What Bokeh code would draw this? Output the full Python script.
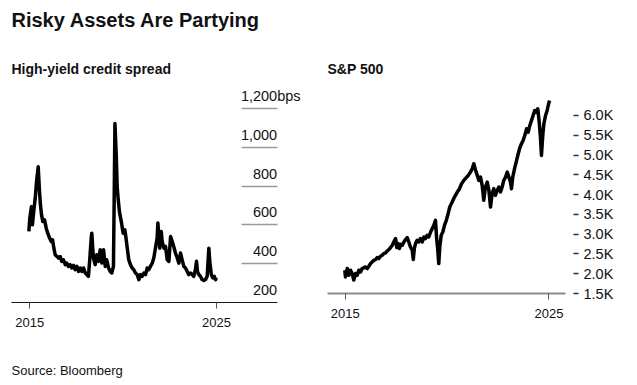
from bokeh.plotting import figure
from bokeh.layouts import row, column
from bokeh.models import Range1d, FixedTicker, Title, LabelSet, ColumnDataSource
from bokeh.embed import file_html
from bokeh.resources import INLINE
from bokeh.core.properties import value

# ---------------- data ----------------
TITLE = "Risky Assets Are Partying"
SUB_LEFT = "High-yield credit spread"
SUB_RIGHT = "S&P 500"
SOURCE = "Source: Bloomberg"

x_ticks = [2015, 2025]
x_tick_labels = ["2015", "2025"]

hy_ticks = [200, 400, 600, 800, 1000, 1200]
hy_tick_labels = ["200", "400", "600", "800", "1,000", "1,200"]
hy_unit = "bps"

spx_ticks = [1500, 2000, 2500, 3000, 3500, 4000, 4500, 5000, 5500, 6000]
spx_tick_labels = ["1.5K", "2.0K", "2.5K", "3.0K", "3.5K", "4.0K", "4.5K", "5.0K", "5.5K", "6.0K"]

hy_year = [2014.95, 2015.00, 2015.09, 2015.14, 2015.21, 2015.29, 2015.36, 2015.45, 2015.52, 2015.57,
           2015.63, 2015.70, 2015.79, 2015.88, 2015.96, 2016.06, 2016.15, 2016.22, 2016.29, 2016.36,
           2016.54, 2016.63, 2016.71, 2016.80, 2016.90, 2016.98, 2017.07, 2017.16, 2017.25, 2017.34,
           2017.43, 2017.52, 2017.61, 2017.70, 2017.79, 2017.88, 2017.97, 2018.05, 2018.14, 2018.21,
           2018.29, 2018.32, 2018.37, 2018.41, 2018.50, 2018.59, 2018.68, 2018.77, 2018.86, 2018.95,
           2019.04, 2019.12, 2019.22, 2019.31, 2019.39, 2019.48, 2019.52, 2019.56, 2019.63, 2019.68,
           2019.73, 2019.80, 2019.90, 2020.00, 2020.09, 2020.13, 2020.22, 2020.30, 2020.39, 2020.48,
           2020.57, 2020.66, 2020.75, 2020.84, 2020.93, 2021.02, 2021.11, 2021.20, 2021.29, 2021.37,
           2021.46, 2021.56, 2021.64, 2021.73, 2021.82, 2021.86, 2021.91, 2021.96, 2022.04, 2022.09,
           2022.18, 2022.27, 2022.36, 2022.45, 2022.54, 2022.63, 2022.71, 2022.80, 2022.90, 2022.98,
           2023.07, 2023.16, 2023.25, 2023.34, 2023.43, 2023.52, 2023.61, 2023.70, 2023.78, 2023.87,
           2023.93, 2023.98, 2024.05, 2024.14, 2024.23, 2024.32, 2024.41, 2024.50, 2024.59, 2024.64,
           2024.72, 2024.80, 2024.88, 2024.95, 2025.00]
hy_bps = [566, 634, 694, 600, 668, 737, 822, 899, 771, 703,
          651, 617, 626, 583, 557, 532, 514, 523, 480, 446,
          429, 437, 412, 420, 395, 403, 386, 395, 378, 391,
          369, 386, 360, 378, 360, 378, 352, 344, 335, 420,
          532, 557, 480, 429, 395, 446, 412, 472, 403, 472,
          386, 420, 378, 360, 352, 386, 737, 1122, 959, 796,
          737, 668, 617, 557, 574, 549, 480, 420, 395, 378,
          369, 352, 344, 318, 344, 335, 352, 344, 378, 369,
          386, 403, 429, 480, 532, 609, 549, 480, 566, 514,
          480, 489, 420, 412, 540, 514, 489, 455, 429, 403,
          455, 420, 386, 378, 360, 344, 352, 344, 335, 369,
          412, 360, 344, 335, 318, 313, 318, 335, 480, 412,
          344, 327, 335, 318, 327]

spx_year = [2014.98, 2015.01, 2015.10, 2015.18, 2015.26, 2015.34, 2015.42, 2015.51, 2015.59, 2015.67,
            2015.75, 2015.83, 2016.00, 2016.08, 2016.16, 2016.24, 2016.32, 2016.40, 2016.49, 2016.57,
            2016.65, 2016.73, 2016.82, 2016.89, 2016.98, 2017.06, 2017.14, 2017.22, 2017.31, 2017.38,
            2017.47, 2017.53, 2017.60, 2017.66, 2017.73, 2017.80, 2017.88, 2017.96, 2018.04, 2018.12,
            2018.20, 2018.29, 2018.34, 2018.39, 2018.45, 2018.53, 2018.61, 2018.69, 2018.78, 2018.86,
            2018.94, 2019.02, 2019.10, 2019.19, 2019.27, 2019.35, 2019.43, 2019.48, 2019.54, 2019.59,
            2019.64, 2019.71, 2019.79, 2019.87, 2019.96, 2020.03, 2020.13, 2020.25, 2020.36, 2020.50,
            2020.61, 2020.71, 2020.82, 2020.94, 2021.04, 2021.15, 2021.23, 2021.31, 2021.39, 2021.48,
            2021.56, 2021.64, 2021.72, 2021.80, 2021.88, 2021.97, 2022.05, 2022.13, 2022.21, 2022.29,
            2022.37, 2022.46, 2022.54, 2022.62, 2022.70, 2022.78, 2022.87, 2022.95, 2023.03, 2023.11,
            2023.16, 2023.22, 2023.31, 2023.41, 2023.49, 2023.57, 2023.65, 2023.73, 2023.81, 2023.90,
            2023.98, 2024.06, 2024.14, 2024.22, 2024.30, 2024.38, 2024.45, 2024.52, 2024.58, 2024.63,
            2024.70, 2024.75, 2024.83, 2024.91, 2024.98, 2025.03]
spx_level = [2088, 1919, 2131, 1962, 2088, 2005, 1840, 2005, 1962, 2088,
             2045, 2131, 2171, 2131, 2189, 2257, 2298, 2340, 2358, 2409,
             2383, 2441, 2467, 2510, 2525, 2575, 2611, 2661, 2719, 2802,
             2888, 2661, 2762, 2636, 2744, 2719, 2802, 2863, 2913, 2802,
             2676, 2593, 2358, 2636, 2762, 2845, 2802, 2888, 2802, 2928,
             2888, 2971, 2928, 3055, 3140, 3224, 3350, 2928, 2611, 2257,
             2676, 2971, 3055, 3224, 3350, 3476, 3686, 3812, 3938, 4064,
             4150, 4276, 4360, 4428, 4486, 4569, 4655, 4781, 4630, 4486,
             4360, 4443, 4233, 3855, 4191, 4317, 4107, 3686, 4024, 4150,
             3981, 4107, 4191, 4064, 4191, 4360, 4443, 4569, 4443, 4317,
             4150, 4443, 4655, 4864, 5033, 5185, 5286, 5369, 5495, 5664,
             5579, 5748, 5874, 6000, 6126, 6083, 6169, 5831, 5452, 4990,
             5538, 5791, 6000, 6126, 6296, 6379]

# ---------------- style ----------------
FONT = "Liberation Sans"
INK = "#111111"

HY_X_START, HY_X_END, HY_AXIS_END = 2014.02, 2029.82, 2028.25
SPX_X_START, SPX_X_END = 2014.13, 2025.81


def clean(p):
    p.outline_line_color = None
    p.background_fill_color = "white"
    p.border_fill_color = "white"


def style_xaxis(p):
    p.grid.grid_line_color = None
    xa = p.xaxis[0]
    xa.ticker = FixedTicker(ticks=x_ticks)
    xa.major_label_overrides = dict(zip(x_ticks, x_tick_labels))
    xa.minor_tick_line_color = None
    xa.major_tick_in = 0
    xa.major_tick_out = 6
    xa.major_tick_line_color = "#555555"
    xa.major_tick_line_width = 1
    xa.major_label_standoff = 9
    xa.major_label_text_font = FONT
    xa.major_label_text_font_size = "13px"
    xa.major_label_text_color = INK


def subtitle(p, text):
    p.add_layout(Title(text=text, text_font=FONT, text_font_size="14px", text_font_style="bold",
                       text_color=INK, align="left", vertical_align="bottom", standoff=17), "above")


# ---------------- header (main title) ----------------
header = figure(width=630, height=40, x_axis_location=None, y_axis_location=None,
                min_border_left=11, min_border_right=0, min_border_top=0, min_border_bottom=0,
                output_backend="svg", toolbar_location=None)
clean(header)
header.grid.grid_line_color = None
header.add_layout(Title(text=TITLE, text_font=FONT, text_font_size="20px", text_font_style="bold",
                        text_color=INK, align="left", vertical_align="bottom", standoff=13), "above")

# ---------------- left: high-yield spread ----------------
left = figure(width=310, height=315, x_range=Range1d(HY_X_START, HY_X_END), y_range=Range1d(200, 1318),
              x_axis_location="below", y_axis_location="right",
              min_border_left=11, min_border_right=4, min_border_top=45, min_border_bottom=53,
              output_backend="svg", toolbar_location=None)
clean(left)
style_xaxis(left)
left.xaxis[0].bounds = (HY_X_START, HY_AXIS_END)
left.xaxis[0].axis_line_color = "#1a1a1a"
left.xaxis[0].axis_line_width = 1

ya = left.yaxis[0]
ya.fixed_location = HY_AXIS_END
ya.ticker = FixedTicker(ticks=hy_ticks[1:])
ya.axis_line_color = None
ya.minor_tick_line_color = None
ya.major_tick_in = 36
ya.major_tick_out = 0
ya.major_tick_line_color = "#9a9a9a"
ya.major_tick_line_width = 1.5
ya.major_label_text_color = None
ya.major_label_text_font_size = "1px"
ya.major_label_standoff = 0

left.line(hy_year, hy_bps, line_color="#000000", line_width=3.5, line_join="round")

lab_src = ColumnDataSource(dict(x=[HY_AXIS_END] * len(hy_ticks), y=hy_ticks, text=hy_tick_labels))
left.add_layout(LabelSet(x="x", y="y", text="text", source=lab_src, text_align="right",
                         text_baseline="alphabetic", y_offset=7.5, text_font=value(FONT),
                         text_font_size=value("14.5px"), text_color=INK))
unit_src = ColumnDataSource(dict(x=[HY_AXIS_END], y=[hy_ticks[-1]], text=[hy_unit]))
left.add_layout(LabelSet(x="x", y="y", text="text", source=unit_src, text_align="left",
                         text_baseline="alphabetic", y_offset=7.5, text_font=value(FONT),
                         text_font_size=value("14.5px"), text_color=INK))
subtitle(left, SUB_LEFT)

# ---------------- right: S&P 500 ----------------
right = figure(width=320, height=306, x_range=Range1d(SPX_X_START, SPX_X_END),
               y_range=Range1d(spx_ticks[0], 6758),
               x_axis_location="below", y_axis_location="right",
               min_border_left=17, min_border_right=65, min_border_top=45, min_border_bottom=53,
               output_backend="svg", toolbar_location=None)
clean(right)
style_xaxis(right)
right.xaxis[0].axis_line_color = "#8c8c8c"
right.xaxis[0].axis_line_width = 2

yb = right.yaxis[0]
yb.ticker = FixedTicker(ticks=spx_ticks)
yb.major_label_overrides = dict(zip(spx_ticks, spx_tick_labels))
yb.axis_line_color = None
yb.minor_tick_line_color = None
yb.major_tick_in = -8
yb.major_tick_out = 13
yb.major_tick_line_color = "#333333"
yb.major_tick_line_width = 1.5
yb.major_label_standoff = 5
yb.major_label_text_font = FONT
yb.major_label_text_font_size = "14.5px"
yb.major_label_text_color = INK

right.line(spx_year, spx_level, line_color="#000000", line_width=3.5, line_join="round")
subtitle(right, SUB_RIGHT)

# ---------------- footer (source) ----------------
footer = figure(width=630, height=30, x_axis_location=None, y_axis_location=None,
                min_border_left=10, min_border_right=0, min_border_top=0, min_border_bottom=0,
                output_backend="svg", toolbar_location=None)
clean(footer)
footer.grid.grid_line_color = None
footer.add_layout(Title(text=SOURCE, text_font=FONT, text_font_size="13px", text_font_style="normal",
                        text_color=INK, align="left", vertical_align="bottom", standoff=10), "above")

layout = column(header, row(left, right, spacing=0), footer, spacing=0)

open("out.html", "w").write(file_html(layout, INLINE))
